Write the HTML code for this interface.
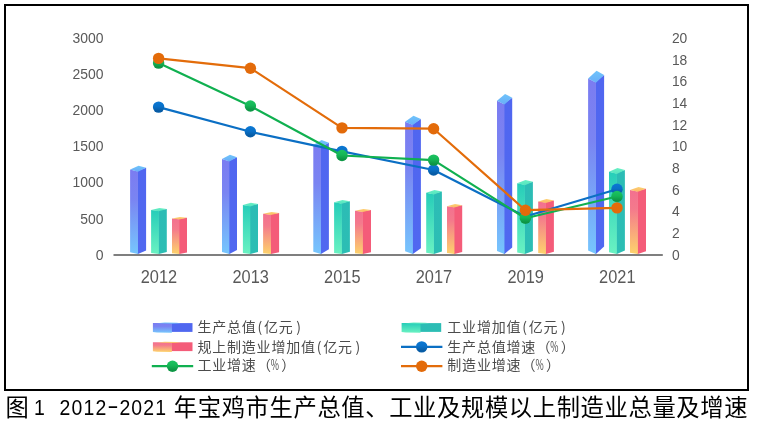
<!DOCTYPE html>
<html lang="zh-CN"><head><meta charset="utf-8"><title>图1</title>
<style>
html,body{margin:0;padding:0;background:#fff;}
body{width:758px;height:425px;overflow:hidden;}
svg{display:block;}
.ax{font-family:"Liberation Sans","Noto Sans CJK SC",sans-serif;fill:#595959;}
.lg{font-family:"Noto Sans CJK SC","WenQuanYi Zen Hei",sans-serif;fill:#4c4c4c;font-size:14px;font-weight:400;}
.cap{font-family:"Noto Sans CJK SC","WenQuanYi Zen Hei",sans-serif;fill:#000;font-weight:400;}
.capn{font-family:"Liberation Sans","Noto Sans CJK SC",sans-serif;fill:#000;}
</style></head><body>
<svg width="758" height="425" viewBox="0 0 758 425">
<defs>
<linearGradient id="bL" x1="0" y1="0" x2="0" y2="1"><stop offset="0" stop-color="#7b7cf1"/><stop offset="0.35" stop-color="#7a84f2"/><stop offset="1" stop-color="#76c6fd"/></linearGradient>
<linearGradient id="bR" x1="0" y1="0" x2="0" y2="1"><stop offset="0" stop-color="#5066f0"/><stop offset="1" stop-color="#5068f0"/></linearGradient>
<linearGradient id="bT" x1="0" y1="0" x2="0" y2="1"><stop offset="0" stop-color="#6fc4fb"/><stop offset="1" stop-color="#6aaef8"/></linearGradient>
<linearGradient id="tL" x1="0" y1="0" x2="0" y2="1"><stop offset="0" stop-color="#26cdb9"/><stop offset="1" stop-color="#6af2c2"/></linearGradient>
<linearGradient id="tR" x1="0" y1="0" x2="0" y2="1"><stop offset="0" stop-color="#2cbcb5"/><stop offset="1" stop-color="#2cbeb4"/></linearGradient>
<linearGradient id="tT" x1="0" y1="0" x2="0" y2="1"><stop offset="0" stop-color="#68f0c4"/><stop offset="1" stop-color="#55e4c0"/></linearGradient>
<linearGradient id="pL" x1="0" y1="0" x2="0" y2="1"><stop offset="0" stop-color="#f3708f"/><stop offset="0.3" stop-color="#f47a8c"/><stop offset="1" stop-color="#fdd36c"/></linearGradient>
<linearGradient id="pR" x1="0" y1="0" x2="0" y2="1"><stop offset="0" stop-color="#f45c79"/><stop offset="1" stop-color="#f45c79"/></linearGradient>
<linearGradient id="pT" x1="0" y1="0" x2="0" y2="1"><stop offset="0" stop-color="#fdd070"/><stop offset="1" stop-color="#fbb868"/></linearGradient>
<linearGradient id="mB" x1="0" y1="0" x2="0" y2="1"><stop offset="0" stop-color="#0b78d4"/><stop offset="0.45" stop-color="#0970c8"/><stop offset="0.85" stop-color="#075aa2"/><stop offset="1" stop-color="#0860ac"/></linearGradient>
<linearGradient id="mG" x1="0" y1="0" x2="0" y2="1"><stop offset="0" stop-color="#1cc462"/><stop offset="0.45" stop-color="#15b656"/><stop offset="0.85" stop-color="#0d9444"/><stop offset="1" stop-color="#109c48"/></linearGradient>
<linearGradient id="mO" x1="0" y1="0" x2="0" y2="1"><stop offset="0" stop-color="#e46c0a"/><stop offset="1" stop-color="#e26a0a"/></linearGradient>
</defs>
<rect x="0" y="0" width="758" height="425" fill="#fff"/>
<rect x="5" y="5" width="743" height="385" fill="#fff" stroke="#000" stroke-width="2"/>

<text class="ax" x="72.6" y="43.00" font-size="15.1" textLength="31.0" lengthAdjust="spacingAndGlyphs">3000</text>
<text class="ax" x="72.6" y="79.00" font-size="15.1" textLength="31.0" lengthAdjust="spacingAndGlyphs">2500</text>
<text class="ax" x="72.6" y="115.00" font-size="15.1" textLength="31.0" lengthAdjust="spacingAndGlyphs">2000</text>
<text class="ax" x="72.6" y="151.00" font-size="15.1" textLength="31.0" lengthAdjust="spacingAndGlyphs">1500</text>
<text class="ax" x="72.6" y="187.00" font-size="15.1" textLength="31.0" lengthAdjust="spacingAndGlyphs">1000</text>
<text class="ax" x="80.3" y="224.00" font-size="15.1" textLength="23.2" lengthAdjust="spacingAndGlyphs">500</text>
<text class="ax" x="95.8" y="260.00" font-size="15.1" textLength="7.8" lengthAdjust="spacingAndGlyphs">0</text>
<text class="ax" x="671.9" y="43.00" font-size="15.1" textLength="15.4" lengthAdjust="spacingAndGlyphs">20</text>
<text class="ax" x="671.9" y="64.68" font-size="15.1" textLength="15.4" lengthAdjust="spacingAndGlyphs">18</text>
<text class="ax" x="671.9" y="86.37" font-size="15.1" textLength="15.4" lengthAdjust="spacingAndGlyphs">16</text>
<text class="ax" x="671.9" y="108.05" font-size="15.1" textLength="15.4" lengthAdjust="spacingAndGlyphs">14</text>
<text class="ax" x="671.9" y="129.74" font-size="15.1" textLength="15.4" lengthAdjust="spacingAndGlyphs">12</text>
<text class="ax" x="671.9" y="151.42" font-size="15.1" textLength="15.4" lengthAdjust="spacingAndGlyphs">10</text>
<text class="ax" x="671.9" y="173.11" font-size="15.1" textLength="7.7" lengthAdjust="spacingAndGlyphs">8</text>
<text class="ax" x="671.9" y="194.79" font-size="15.1" textLength="7.7" lengthAdjust="spacingAndGlyphs">6</text>
<text class="ax" x="671.9" y="216.48" font-size="15.1" textLength="7.7" lengthAdjust="spacingAndGlyphs">4</text>
<text class="ax" x="671.9" y="238.16" font-size="15.1" textLength="7.7" lengthAdjust="spacingAndGlyphs">2</text>
<text class="ax" x="671.9" y="259.85" font-size="15.1" textLength="7.7" lengthAdjust="spacingAndGlyphs">0</text>
<polygon points="137.34,170.94 146.10,167.87 146.10,250.38 137.94,254.00 137.34,253.90" fill="url(#bR)"/>
<polygon points="130.10,169.59 137.94,171.44 137.94,254.00 130.10,252.32" fill="url(#bL)"/>
<polygon points="130.10,169.59 138.58,165.80 146.10,167.87 137.94,171.74" fill="url(#bT)"/>
<polygon points="158.19,210.35 166.80,208.98 166.80,252.11 158.79,254.00 158.19,253.90" fill="url(#tR)"/>
<polygon points="151.10,209.88 158.79,210.85 158.79,254.00 151.10,253.12" fill="url(#tL)"/>
<polygon points="151.10,209.88 159.42,207.90 166.80,208.98 158.79,211.15" fill="url(#tT)"/>
<polygon points="178.75,218.77 187.00,217.77 187.00,252.48 179.35,254.00 178.75,253.90" fill="url(#pR)"/>
<polygon points="172.00,218.50 179.35,219.27 179.35,254.00 172.00,253.30" fill="url(#pL)"/>
<polygon points="172.00,218.50 179.95,216.90 187.00,217.77 179.35,219.57" fill="url(#pT)"/>
<polygon points="228.75,160.65 237.00,157.13 237.00,249.93 229.35,254.00 228.75,253.90" fill="url(#bR)"/>
<polygon points="222.00,159.07 229.35,161.15 229.35,254.00 222.00,252.12" fill="url(#bL)"/>
<polygon points="222.00,159.07 229.95,154.80 237.00,157.13 229.35,161.45" fill="url(#bT)"/>
<polygon points="249.70,205.58 258.00,204.00 258.00,251.90 250.30,254.00 249.70,253.90" fill="url(#tR)"/>
<polygon points="242.90,205.00 250.30,206.08 250.30,254.00 242.90,253.03" fill="url(#tL)"/>
<polygon points="242.90,205.00 250.90,202.80 258.00,204.00 250.30,206.38" fill="url(#tT)"/>
<polygon points="270.34,214.19 279.10,212.99 279.10,252.28 270.94,254.00 270.34,253.90" fill="url(#pR)"/>
<polygon points="263.10,213.81 270.94,214.69 270.94,254.00 263.10,253.20" fill="url(#pL)"/>
<polygon points="263.10,213.81 271.58,212.00 279.10,212.99 270.94,214.99" fill="url(#pT)"/>
<polygon points="320.34,146.89 328.90,142.78 328.90,249.33 320.94,254.00 320.34,253.90" fill="url(#bR)"/>
<polygon points="313.30,145.00 320.94,147.39 320.94,254.00 313.30,251.84" fill="url(#bL)"/>
<polygon points="313.30,145.00 321.57,140.10 328.90,142.78 320.94,147.69" fill="url(#bT)"/>
<polygon points="341.24,202.96 349.90,201.27 349.90,251.79 341.84,254.00 341.24,253.90" fill="url(#tR)"/>
<polygon points="334.10,202.32 341.84,203.46 341.84,254.00 334.10,252.97" fill="url(#tL)"/>
<polygon points="334.10,202.32 342.47,200.00 349.90,201.27 341.84,203.76" fill="url(#tT)"/>
<polygon points="362.24,211.29 371.00,209.96 371.00,252.15 362.84,254.00 362.24,253.90" fill="url(#pR)"/>
<polygon points="355.00,210.84 362.84,211.79 362.84,254.00 355.00,253.14" fill="url(#pL)"/>
<polygon points="355.00,210.84 363.48,208.90 371.00,209.96 362.84,212.09" fill="url(#pT)"/>
<polygon points="412.24,124.14 420.90,119.05 420.90,248.33 412.84,254.00 412.24,253.90" fill="url(#bR)"/>
<polygon points="405.10,121.74 412.84,124.64 412.84,254.00 405.10,251.37" fill="url(#bL)"/>
<polygon points="405.10,121.74 413.47,115.80 420.90,119.05 412.84,124.94" fill="url(#bT)"/>
<polygon points="433.29,193.69 441.90,191.60 441.90,251.38 433.89,254.00 433.29,253.90" fill="url(#tR)"/>
<polygon points="426.20,192.85 433.89,194.19 433.89,254.00 426.20,252.79" fill="url(#tL)"/>
<polygon points="426.20,192.85 434.52,190.10 441.90,191.60 433.89,194.49" fill="url(#tT)"/>
<polygon points="453.85,206.70 462.20,205.18 462.20,251.95 454.45,254.00 453.85,253.90" fill="url(#pR)"/>
<polygon points="447.00,206.15 454.45,207.20 454.45,254.00 447.00,253.05" fill="url(#pL)"/>
<polygon points="447.00,206.15 455.06,204.00 462.20,205.18 454.45,207.50" fill="url(#pT)"/>
<polygon points="503.85,103.65 512.20,97.66 512.20,247.44 504.45,254.00 503.85,253.90" fill="url(#bR)"/>
<polygon points="497.00,100.78 504.45,104.15 504.45,254.00 497.00,250.96" fill="url(#bL)"/>
<polygon points="497.00,100.78 505.06,93.90 512.20,97.66 504.45,104.45" fill="url(#bT)"/>
<polygon points="524.29,184.33 532.90,181.84 532.90,250.97 524.89,254.00 524.29,253.90" fill="url(#tR)"/>
<polygon points="517.20,183.28 524.89,184.83 524.89,254.00 517.20,252.60" fill="url(#tL)"/>
<polygon points="517.20,183.28 525.52,180.10 532.90,181.84 524.89,185.13" fill="url(#tT)"/>
<polygon points="545.29,202.11 553.90,200.39 553.90,251.75 545.89,254.00 545.29,253.90" fill="url(#pR)"/>
<polygon points="538.20,201.46 545.89,202.61 545.89,254.00 538.20,252.96" fill="url(#pL)"/>
<polygon points="538.20,201.46 546.52,199.10 553.90,200.39 545.89,202.91" fill="url(#pT)"/>
<polygon points="595.34,81.93 604.10,75.01 604.10,246.48 595.94,254.00 595.34,253.90" fill="url(#bR)"/>
<polygon points="588.10,78.58 595.94,82.43 595.94,254.00 588.10,250.52" fill="url(#bL)"/>
<polygon points="588.10,78.58 596.58,70.70 604.10,75.01 595.94,82.73" fill="url(#bT)"/>
<polygon points="616.19,173.10 624.90,170.12 624.90,250.48 616.79,254.00 616.19,253.90" fill="url(#tR)"/>
<polygon points="609.00,171.79 616.79,173.60 616.79,254.00 609.00,252.37" fill="url(#tL)"/>
<polygon points="609.00,171.79 617.43,168.10 624.90,170.12 616.79,173.90" fill="url(#tT)"/>
<polygon points="637.24,190.88 646.00,188.67 646.00,251.26 637.84,254.00 637.24,253.90" fill="url(#pR)"/>
<polygon points="630.00,189.98 637.84,191.38 637.84,254.00 630.00,252.73" fill="url(#pL)"/>
<polygon points="630.00,189.98 638.48,187.10 646.00,188.67 637.84,191.68" fill="url(#pT)"/>
<line x1="113.5" y1="255" x2="662.8" y2="255" stroke="#7f7f7f" stroke-width="2"/>
<text class="ax" x="140.7" y="283.3" font-size="17.8" textLength="36.4" lengthAdjust="spacingAndGlyphs">2012</text>
<text class="ax" x="232.5" y="283.3" font-size="17.8" textLength="36.4" lengthAdjust="spacingAndGlyphs">2013</text>
<text class="ax" x="324.1" y="283.3" font-size="17.8" textLength="36.4" lengthAdjust="spacingAndGlyphs">2015</text>
<text class="ax" x="415.7" y="283.3" font-size="17.8" textLength="36.4" lengthAdjust="spacingAndGlyphs">2017</text>
<text class="ax" x="507.5" y="283.3" font-size="17.8" textLength="36.4" lengthAdjust="spacingAndGlyphs">2019</text>
<text class="ax" x="599.1" y="283.3" font-size="17.8" textLength="36.4" lengthAdjust="spacingAndGlyphs">2021</text>
<polyline points="158.6,107.1 250.4,131.8 342.0,151.4 433.6,170.0 525.4,216.5 617.0,189.3" fill="none" stroke="#0b6fc4" stroke-width="2.2" stroke-linejoin="round" stroke-linecap="round"/><circle cx="158.6" cy="107.1" r="5.7" fill="url(#mB)"/><circle cx="250.4" cy="131.8" r="5.7" fill="url(#mB)"/><circle cx="342.0" cy="151.4" r="5.7" fill="url(#mB)"/><circle cx="433.6" cy="170.0" r="5.7" fill="url(#mB)"/><circle cx="525.4" cy="216.5" r="5.7" fill="url(#mB)"/><circle cx="617.0" cy="189.3" r="5.7" fill="url(#mB)"/>
<polyline points="158.6,63.1 250.4,106.0 342.0,155.5 433.6,160.1 525.4,218.3 617.0,196.5" fill="none" stroke="#10b050" stroke-width="2.2" stroke-linejoin="round" stroke-linecap="round"/><circle cx="158.6" cy="63.1" r="5.7" fill="url(#mG)"/><circle cx="250.4" cy="106.0" r="5.7" fill="url(#mG)"/><circle cx="342.0" cy="155.5" r="5.7" fill="url(#mG)"/><circle cx="433.6" cy="160.1" r="5.7" fill="url(#mG)"/><circle cx="525.4" cy="218.3" r="5.7" fill="url(#mG)"/><circle cx="617.0" cy="196.5" r="5.7" fill="url(#mG)"/>
<polyline points="158.6,58.4 250.4,68.2 342.0,127.9 433.6,128.7 525.4,210.2 617.0,207.9" fill="none" stroke="#e36c0a" stroke-width="2.2" stroke-linejoin="round" stroke-linecap="round"/><circle cx="158.6" cy="58.4" r="5.7" fill="url(#mO)"/><circle cx="250.4" cy="68.2" r="5.7" fill="url(#mO)"/><circle cx="342.0" cy="127.9" r="5.7" fill="url(#mO)"/><circle cx="433.6" cy="128.7" r="5.7" fill="url(#mO)"/><circle cx="525.4" cy="210.2" r="5.7" fill="url(#mO)"/><circle cx="617.0" cy="207.9" r="5.7" fill="url(#mO)"/>
<rect x="171.2" y="323.1" width="21.3" height="8.8" fill="url(#bR)"/><polygon points="152.9,323.1 171.8,323.1 171.8,332.7 156.9,332.6 152.9,332.0" fill="url(#bL)"/><polygon points="156.9,323.2 164.8,322.6 176.7,322.7 180.6,323.2 171.8,323.7" fill="url(#bT)"/>
<rect x="171.2" y="342.3" width="21.3" height="8.8" fill="url(#pR)"/><polygon points="152.9,342.3 171.8,342.3 171.8,351.9 156.9,351.8 152.9,351.2" fill="url(#pL)"/><polygon points="156.9,342.4 164.8,341.8 176.7,341.9 180.6,342.4 171.8,342.9" fill="url(#pT)"/>
<line x1="151.8" y1="366.2" x2="193.2" y2="366.2" stroke="#10b050" stroke-width="2.2"/><circle cx="172.5" cy="366.2" r="5.7" fill="url(#mG)"/>
<rect x="419.9" y="323.1" width="21.3" height="8.8" fill="url(#tR)"/><polygon points="401.6,323.1 420.5,323.1 420.5,332.7 405.6,332.6 401.6,332.0" fill="url(#tL)"/><polygon points="405.6,323.2 413.5,322.6 425.4,322.7 429.3,323.2 420.5,323.7" fill="url(#tT)"/>
<line x1="401.0" y1="346.9" x2="442.4" y2="346.9" stroke="#0b6fc4" stroke-width="2.2"/><circle cx="421.7" cy="346.9" r="5.7" fill="url(#mB)"/>
<line x1="401.0" y1="366.2" x2="442.4" y2="366.2" stroke="#e36c0a" stroke-width="2.2"/><circle cx="421.7" cy="366.2" r="5.7" fill="url(#mO)"/>
<text class="lg" y="332.35" text-anchor="middle"><tspan x="204.40">生</tspan><tspan x="219.20">产</tspan><tspan x="234.00">总</tspan><tspan x="248.80">值</tspan><tspan x="259.90">(</tspan><tspan x="271.00">亿</tspan><tspan x="285.80">元</tspan><tspan x="298.70">)</tspan></text>
<text class="lg" y="351.55" text-anchor="middle"><tspan x="204.40">规</tspan><tspan x="219.20">上</tspan><tspan x="234.00">制</tspan><tspan x="248.80">造</tspan><tspan x="263.60">业</tspan><tspan x="278.40">增</tspan><tspan x="293.20">加</tspan><tspan x="308.00">值</tspan><tspan x="319.10">(</tspan><tspan x="330.20">亿</tspan><tspan x="345.00">元</tspan><tspan x="357.90">)</tspan></text>
<text class="lg" y="369.90" text-anchor="middle"><tspan x="204.40">工</tspan><tspan x="219.20">业</tspan><tspan x="234.00">增</tspan><tspan x="248.80">速</tspan><tspan x="263.90">（</tspan><tspan x="288.20">）</tspan></text><text class="lg" x="270.80" y="369.90" textLength="8.20" lengthAdjust="spacingAndGlyphs">%</text>
<text class="lg" y="332.35" text-anchor="middle"><tspan x="454.30">工</tspan><tspan x="469.10">业</tspan><tspan x="483.90">增</tspan><tspan x="498.70">加</tspan><tspan x="513.50">值</tspan><tspan x="524.60">(</tspan><tspan x="535.70">亿</tspan><tspan x="550.50">元</tspan><tspan x="563.40">)</tspan></text>
<text class="lg" y="351.55" text-anchor="middle"><tspan x="454.30">生</tspan><tspan x="469.10">产</tspan><tspan x="483.90">总</tspan><tspan x="498.70">值</tspan><tspan x="513.50">增</tspan><tspan x="528.30">速</tspan><tspan x="543.40">（</tspan><tspan x="567.70">）</tspan></text><text class="lg" x="550.30" y="351.55" textLength="8.20" lengthAdjust="spacingAndGlyphs">%</text>
<text class="lg" y="369.90" text-anchor="middle"><tspan x="454.30">制</tspan><tspan x="469.10">造</tspan><tspan x="483.90">业</tspan><tspan x="498.70">增</tspan><tspan x="513.50">速</tspan><tspan x="528.60">（</tspan><tspan x="552.90">）</tspan></text><text class="lg" x="535.50" y="369.90" textLength="8.20" lengthAdjust="spacingAndGlyphs">%</text>
<text class="cap" y="415.6" font-size="23.3" text-anchor="middle"><tspan x="17.16">图</tspan><tspan x="185.47">年</tspan><tspan x="209.40">宝</tspan><tspan x="233.33">鸡</tspan><tspan x="257.25">市</tspan><tspan x="281.19">生</tspan><tspan x="305.12">产</tspan><tspan x="329.05">总</tspan><tspan x="352.98">值</tspan><tspan x="376.91">、</tspan><tspan x="400.84">工</tspan><tspan x="424.77">业</tspan><tspan x="448.70">及</tspan><tspan x="472.63">规</tspan><tspan x="496.56">模</tspan><tspan x="520.49">以</tspan><tspan x="544.42">上</tspan><tspan x="568.35">制</tspan><tspan x="592.27">造</tspan><tspan x="616.20">业</tspan><tspan x="640.13">总</tspan><tspan x="664.06">量</tspan><tspan x="687.99">及</tspan><tspan x="711.92">增</tspan><tspan x="735.85">速</tspan></text><text class="capn" y="414.8" font-size="21.6" text-anchor="middle" transform="scale(0.9,1)"><tspan x="43.89">1</tspan><tspan x="72.20">2</tspan><tspan x="85.50">0</tspan><tspan x="98.79">1</tspan><tspan x="112.09">2</tspan><tspan x="138.68">2</tspan><tspan x="151.97">0</tspan><tspan x="165.26">2</tspan><tspan x="178.56">1</tspan></text><text class="capn" x="107.24" y="413.30" font-size="21.6" textLength="11.4" lengthAdjust="spacingAndGlyphs">-</text>
</svg></body></html>
